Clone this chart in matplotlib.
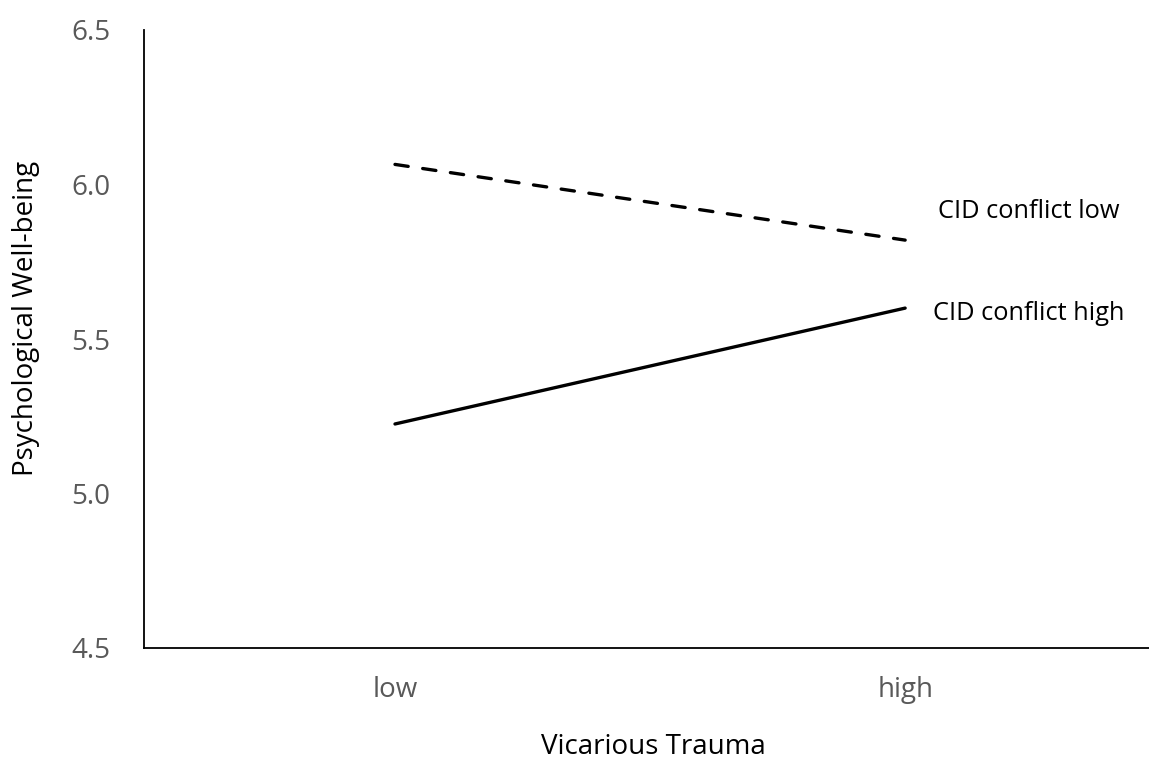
import matplotlib
matplotlib.use("Agg")
import matplotlib.pyplot as plt

categories = ["low", "high"]
cid_low = [6.065, 5.82]
cid_high = [5.225, 5.60]
series_labels = ["CID conflict low", "CID conflict high"]
yticks = [4.5, 5.0, 5.5, 6.0, 6.5]
ytick_labels = ["4.5", "5.0", "5.5", "6.0", "6.5"]

plt.rcParams['font.family'] = ['Open Sans', 'DejaVu Sans']

W, H = 1149, 762
fig = plt.figure(figsize=(W/100, H/100), dpi=100)
ax = fig.add_axes([144/W, 1-648/H, 1-144/W, (648-30)/H])

x = list(range(len(categories)))
ax.plot(x, cid_low, color='black', lw=2.4, linestyle=(0, (4.0, 4.4)),
        solid_capstyle='round', dash_capstyle='round')
ax.plot(x, cid_high, color='black', lw=2.4, solid_capstyle='round')

ax.annotate(series_labels[0], xy=(x[-1], cid_low[-1]), xytext=(33, 22), textcoords='offset pixels',
            ha='left', va='baseline', fontsize=18.3, color='black')
ax.annotate(series_labels[1], xy=(x[-1], cid_high[-1]), xytext=(28, -12), textcoords='offset pixels',
            ha='left', va='baseline', fontsize=18.3, color='black')

ax.set_xlim(-0.492, 1.478)
ax.set_ylim(4.5, 6.5)
ax.set_xticks(x)
ax.set_xticklabels(categories)
ax.set_yticks(yticks)
ax.set_yticklabels(ytick_labels)
ax.tick_params(axis='both', length=0, labelsize=20, labelcolor='#595959')
ax.tick_params(axis='y', pad=24)
ax.tick_params(axis='x', pad=20)

for s in ['top', 'right']:
    ax.spines[s].set_visible(False)
for s in ['left', 'bottom']:
    ax.spines[s].set_color('black')
    ax.spines[s].set_linewidth(1.3)

fig.text(653/W, 1-754/H, "Vicarious Trauma", fontsize=20, color='black', ha='center', va='baseline')
fig.text(26/W, 1-318/H, "Psychological Well-being", fontsize=20, color='black',
         ha='center', va='center', rotation=90)

fig.savefig("out.png", dpi=100)
